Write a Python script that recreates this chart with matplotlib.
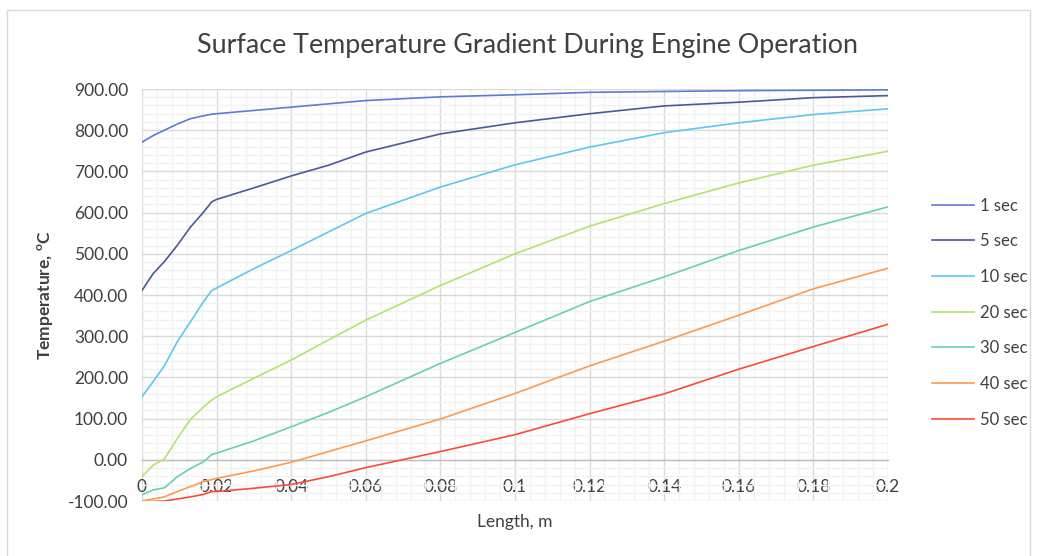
import matplotlib.pyplot as plt
from matplotlib.patches import Rectangle
from matplotlib.ticker import MultipleLocator, FuncFormatter

plt.rcParams['font.family'] = ['Lato', 'DejaVu Sans']

# Surface temperature along the wall for each time step
length = [0, 0.003, 0.006, 0.0095, 0.013, 0.0165, 0.0187, 0.02, 0.03, 0.04,
          0.05, 0.06, 0.08, 0.1, 0.12, 0.14, 0.16, 0.18, 0.2]

t_1s = [771, 787, 800, 815, 828, 835, 839, 840, 848, 856,
        864, 872, 881, 886, 892, 894, 896, 897, 898]
t_5s = [411, 452, 481, 521, 565, 601, 626, 632, 660, 689,
        715, 747, 791, 818, 840, 859, 868, 879, 884]
t_10s = [153, 190, 228, 287, 335, 384, 411, 417, 464, 508,
         553, 598, 662, 716, 759, 794, 818, 838, 852]
t_20s = [-41, -13, 2, 52, 98, 128, 145, 153, 198, 242,
         291, 339, 423, 500, 567, 622, 672, 715, 749]
t_30s = [-85, -73, -68, -41, -21, -5, 13, 16, 46, 80,
         115, 153, 234, 309, 384, 444, 508, 565, 614]
t_40s = [-100, -95, -90, -77, -65, -53, -48, -45, -27, -6,
         20, 46, 99, 161, 228, 288, 351, 415, 465]
t_50s = [-102, -101, -100, -95, -90, -84, -77, -77, -69, -60,
         -41, -19, 20, 61, 112, 160, 220, 275, 329]

series = [t_1s, t_5s, t_10s, t_20s, t_30s, t_40s, t_50s]
labels = ['1 sec', '5 sec', '10 sec', '20 sec', '30 sec', '40 sec', '50 sec']
colors = ['#5b7bd6', '#4a5a98', '#5cc8f0', '#b2e36c', '#66d2ad', '#ff9a4c', '#ff4a33']

text_color = '#404040'

fig = plt.figure(figsize=(10.37, 5.56), dpi=100)
fig.patches.append(Rectangle((0.0068, -0.05), 0.9866, 1.032, transform=fig.transFigure,
                             fill=False, edgecolor='#d9d9d9', linewidth=1.0))

ax = fig.add_axes([0.1369, 0.0989, 0.7194, 0.741])

for vals, lab, col in zip(series, labels, colors):
    ax.plot(length, vals, color=col, linewidth=1.2, label=lab, zorder=3)

ax.set_xlim(0, 0.2)
ax.set_ylim(-100, 900)
ax.xaxis.set_major_locator(MultipleLocator(0.02))
ax.xaxis.set_minor_locator(MultipleLocator(0.004))
ax.yaxis.set_major_locator(MultipleLocator(100))
ax.yaxis.set_minor_locator(MultipleLocator(20))

ax.grid(which='major', color='#d9d9d9', linewidth=1.0, zorder=1)
ax.grid(which='minor', color='#f2f2f2', linewidth=1.0, zorder=0)
ax.set_axisbelow(True)

for side in ['top', 'right', 'left']:
    ax.spines[side].set_visible(False)
ax.spines['bottom'].set_position(('data', 0))
ax.spines['bottom'].set_color('#bfbfbf')
ax.spines['bottom'].set_linewidth(1.0)

ax.tick_params(which='both', length=0, labelsize=12.5, colors=text_color)
ax.tick_params(axis='y', pad=10)
ax.tick_params(axis='x', pad=14)
ax.xaxis.set_major_formatter(FuncFormatter(lambda v, p: '0' if abs(v) < 1e-9 else ('%.2f' % v).rstrip('0')))
ax.yaxis.set_major_formatter(FuncFormatter(lambda v, p: '%.2f' % v))

fig.text(0.509, 0.918, 'Surface Temperature Gradient During Engine Operation',
         ha='center', va='center', fontsize=19.4, color=text_color)
fig.text(0.4965, 0.062, 'Length, m', ha='center', va='center', fontsize=12.5, color=text_color)
fig.text(0.044, 0.469, 'Temperature, $^{\\mathregular{o}}$C', ha='center', va='center',
         rotation=90, fontsize=12.5, fontweight='bold', color=text_color)

ax.legend(loc='upper left', bbox_to_anchor=(1.039, 0.773), frameon=False,
          fontsize=12, handlelength=2.5, handletextpad=0.4, labelspacing=1.18,
          labelcolor=text_color)

fig.savefig('out.png', dpi=100)
